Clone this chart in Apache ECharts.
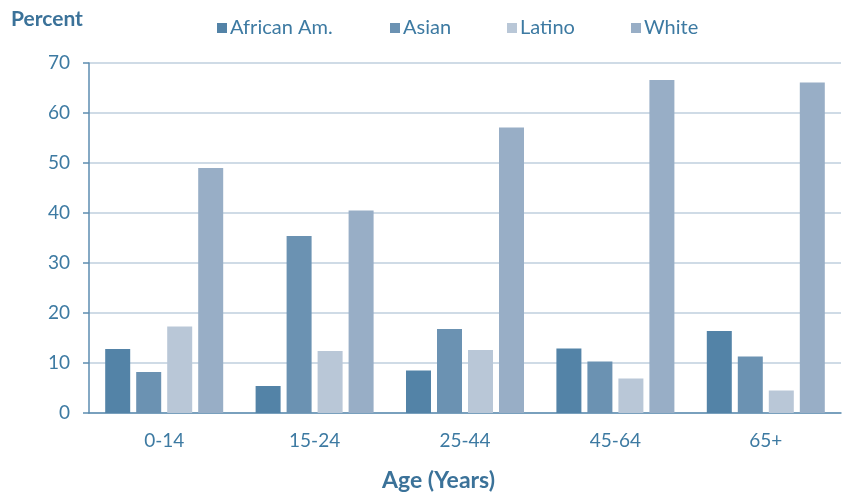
<!DOCTYPE html>
<html><head><meta charset="utf-8">
<script src="https://cdn.jsdelivr.net/npm/echarts@6/dist/echarts.min.js"></script>
<style>html,body{margin:0;padding:0;background:#fff}#c{width:844px;height:495px}</style>
</head><body><div id="c"></div>
<script>
var categories = ['0-14', '15-24', '25-44', '45-64', '65+'];
var seriesNames = ['African Am.', 'Asian', 'Latino', 'White'];
var africanAm = [12.8, 5.4, 8.5, 12.9, 16.4];
var asian = [8.2, 35.4, 16.8, 10.3, 11.3];
var latino = [17.3, 12.4, 12.6, 6.9, 4.5];
var white = [49.0, 40.5, 57.1, 66.6, 66.1];
var yTicks = [0, 10, 20, 30, 40, 50, 60, 70];

var colors = ['#5383a7', '#6b92b2', '#b9c7d7', '#98aec6'];
var textColor = '#3d7aa2';
var font = 'Lato';
var values = [africanAm, asian, latino, white];
var legendX = [217, 390, 507, 631];

var chart = echarts.init(document.getElementById('c'));
chart.setOption({
  animation: false,
  textStyle: { fontFamily: font },
  title: [
    { text: 'Percent', left: 11, top: 9, padding: 0, textStyle: { fontFamily: font, fontSize: 21, fontWeight: 'bold', color: '#3b7299' } },
    { text: 'Age (Years)', left: 382, top: 469, padding: 0, textStyle: { fontFamily: font, fontSize: 23, fontWeight: 'bold', color: '#3b7299' } }
  ],
  legend: seriesNames.map(function (n, i) {
    return {
      data: [n], left: legendX[i], top: 18, padding: 0, itemWidth: 10, itemHeight: 10, itemGap: 4,
      icon: 'rect',
      textStyle: { fontFamily: font, fontSize: 20, color: textColor, padding: [0, 0, 0, -2] }
    };
  }),
  grid: { left: 89, right: 3, top: 63, bottom: 82, containLabel: false },
  xAxis: {
    type: 'category', data: categories,
    axisLine: { show: true, lineStyle: { color: '#5d8db0', width: 1.5 } },
    axisTick: { show: false },
    axisLabel: { color: textColor, fontSize: 19, margin: 18, fontFamily: font }
  },
  yAxis: {
    type: 'value', min: 0, max: 70, interval: 10,
    axisLine: { show: true, lineStyle: { color: '#5d8db0', width: 1.5 } },
    axisTick: { show: true, inside: false, length: 6, lineStyle: { color: '#5d8db0', width: 1.5 } },
    axisLabel: { color: textColor, fontSize: 19, margin: 19, fontFamily: font,
      formatter: function (v) { return yTicks.indexOf(v) >= 0 ? String(v) : ''; } },
    splitLine: { show: true, lineStyle: { color: '#bfcfde', width: 1.5 } }
  },
  series: seriesNames.map(function (n, i) {
    return {
      name: n, type: 'bar', data: values[i], barWidth: 25, barGap: '24%',
      itemStyle: { color: colors[i] }
    };
  })
});
</script></body></html>
